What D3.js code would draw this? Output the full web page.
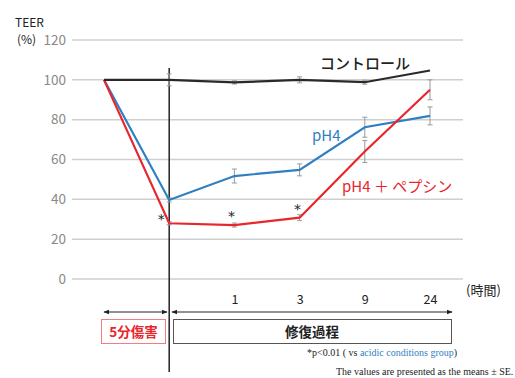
<!DOCTYPE html>
<html><head><meta charset="utf-8">
<script src="https://cdn.jsdelivr.net/npm/d3@7"></script>
<style>body{margin:0;background:#fff}svg{display:block}</style>
</head><body>
<script>
const categories = ["pre","0","1","3","9","24"];
const xTickLabels = ["1","3","9","24"];
const yTicks = [0,20,40,60,80,100,120];
const control = [100,100,98.7,100,98.8,104.7];
const controlErr = [0,3,0.8,1.5,1,0];
const ph4 = [100,39.7,51.7,54.8,76.2,81.9];
const ph4Err = [0,1,3.5,3,5,4.5];
const pepsin = [100,28,27.1,30.8,64,95];
const pepsinErr = [0,0.8,1,1.5,5.5,5];
const starCats = ["0","1","3"];

const W=515,H=378;
const svg=d3.select("body").append("svg").attr("width",W).attr("height",H);
const y=d3.scaleLinear().domain([0,120]).range([279,40]);
const x=d3.scalePoint().domain(categories).range([104,430]);
const jp='"Noto Sans CJK JP", sans-serif';

// grid
svg.append("g").selectAll("line").data(yTicks).join("line")
  .attr("x1",72).attr("x2",463).attr("y1",d=>y(d)).attr("y2",d=>y(d))
  .attr("stroke","#cfcfcf").attr("stroke-width",1.5);
// y labels
const yAxis=svg.append("g").attr("transform","translate(68,0)")
  .call(d3.axisLeft(y).tickValues(yTicks).tickSize(0).tickPadding(2));
yAxis.select(".domain").remove();
yAxis.selectAll("text").attr("fill","#888").style("font-size","13.5px").style("font-family",jp);

svg.append("text").attr("x",15).attr("y",27).text("TEER").style("font-family",jp).style("font-size","12px").attr("fill","#222");
svg.append("text").attr("x",17).attr("y",44).text("(%)").style("font-family",jp).style("font-size","12px").attr("fill","#222");

// x labels
const xAxis=svg.append("g").attr("transform","translate(0,295)")
  .call(d3.axisBottom(x).tickValues(xTickLabels).tickSize(0).tickPadding(0));
xAxis.select(".domain").remove();
xAxis.selectAll("text").attr("fill","#222").style("font-size","12.5px").style("font-family",jp);
svg.append("text").attr("x",466).attr("y",295).text("(時間)").style("font-family",jp).style("font-size","13px").attr("fill","#222");

// vertical line
svg.append("line").attr("x1",x("0")).attr("x2",x("0")).attr("y1",68).attr("y2",372).attr("stroke","#222").attr("stroke-width",1.5);

function series(vals,errs,color,w){
  const pts=categories.map((c,i)=>({c,v:vals[i],e:errs[i]}));
  svg.append("g").selectAll("g").data(pts.filter(p=>p.e>0)).join("g").each(function(p){
    const g=d3.select(this);const cx=x(p.c);
    g.append("line").attr("x1",cx).attr("x2",cx).attr("y1",y(p.v+p.e)).attr("y2",y(p.v-p.e)).attr("stroke","#999").attr("stroke-width",1);
    [p.v+p.e,p.v-p.e].forEach(v=>g.append("line").attr("x1",cx-2.5).attr("x2",cx+2.5).attr("y1",y(v)).attr("y2",y(v)).attr("stroke","#999").attr("stroke-width",1));
  });
  svg.append("path").datum(pts).attr("fill","none").attr("stroke",color).attr("stroke-width",w)
    .attr("d",d3.line().x(p=>x(p.c)).y(p=>y(p.v)));
}
series(ph4,ph4Err,"#2f7fc1",2.2);
series(pepsin,pepsinErr,"#e8262b",2.2);
series(control,controlErr,"#2a2a2a",2.2);

// asterisks
const starOff={"0":[-8,-4],"1":[-3,-9],"3":[-2,-9]};
svg.append("g").selectAll("text").data(starCats).join("text")
  .attr("x",c=>x(c)+starOff[c][0]).attr("y",c=>y(pepsin[categories.indexOf(c)])+starOff[c][1]+5)
  .attr("text-anchor","middle").text("*").style("font-size","14px").style("font-family","DejaVu Sans, sans-serif").attr("fill","#222");

// series labels
svg.append("text").attr("x",320).attr("y",69).text("コントロール").style("font-family",jp).style("font-size","15px").style("font-weight","500").attr("fill","#222");
svg.append("text").attr("x",312).attr("y",141).text("pH4").style("font-family",jp).style("font-size","15px").attr("fill","#2f7fc1");
svg.append("text").attr("x",342).attr("y",192).text("pH4 ＋ ペプシン").style("font-family",jp).style("font-size","15px").attr("fill","#e8262b");

// arrows
const defs=svg.append("defs");
defs.append("marker").attr("id","ah").attr("viewBox","0 0 10 10").attr("refX",9).attr("refY",5)
  .attr("markerWidth",6).attr("markerHeight",6).attr("orient","auto-start-reverse")
  .append("path").attr("d","M0,1 L10,5 L0,9 Z").attr("fill","#222");
svg.append("line").attr("x1",104).attr("x2",167).attr("y1",312).attr("y2",312).attr("stroke","#222").attr("stroke-width",1)
  .attr("marker-start","url(#ah)").attr("marker-end","url(#ah)");
svg.append("line").attr("x1",172).attr("x2",452).attr("y1",312).attr("y2",312).attr("stroke","#222").attr("stroke-width",1)
  .attr("marker-start","url(#ah)").attr("marker-end","url(#ah)");

// boxes
svg.append("rect").attr("x",101.5).attr("y",319.5).attr("width",64).attr("height",24).attr("fill","#fff").attr("stroke","#f08080").attr("stroke-width",1);
svg.append("text").attr("x",133.5).attr("y",337).attr("text-anchor","middle").text("5分傷害").style("font-family",jp).style("font-size","13.5px").style("font-weight","bold").attr("fill","#e8262b");
svg.append("rect").attr("x",173.5).attr("y",319.5).attr("width",278).attr("height",24).attr("fill","#fff").attr("stroke","#555").attr("stroke-width",1);
svg.append("text").attr("x",312).attr("y",337).attr("text-anchor","middle").text("修復過程").style("font-family",jp).style("font-size","13.5px").style("font-weight","bold").attr("fill","#222");

// footnotes
const fn=svg.append("text").attr("x",307).attr("y",356).style("font-family","Liberation Serif, serif").style("font-size","10px").attr("fill","#222");
fn.append("tspan").text("*p<0.01 ( vs ");
fn.append("tspan").attr("fill","#2f7fc1").text("acidic conditions group");
fn.append("tspan").text(")");
svg.append("text").attr("x",336).attr("y",375).text("The values are presented as the means ± SE.").style("font-family","Liberation Serif, serif").style("font-size","10px").attr("fill","#222");
</script>
</body></html>
